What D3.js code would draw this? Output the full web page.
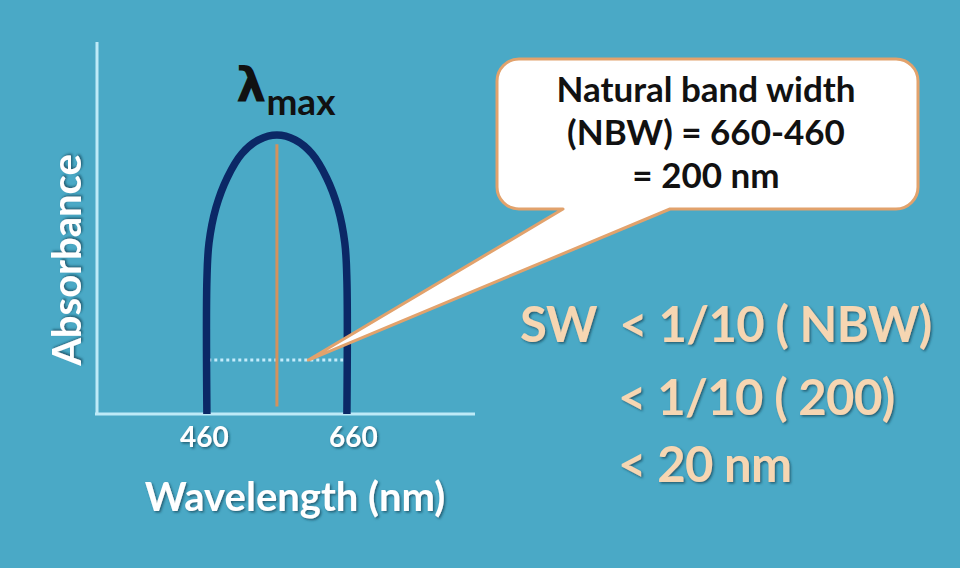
<!DOCTYPE html>
<html>
<head>
<meta charset="utf-8">
<script src="https://cdn.jsdelivr.net/npm/d3@7"></script>
<style>
  body { margin: 0; background: #4aa9c6; }
  svg { display: block; }
  .lbl { font-family: Lato, "Open Sans", sans-serif; font-weight: 700; }
</style>
</head>
<body>
<svg id="viz" width="960" height="568"></svg>
<script>
// band: [wavelength nm, absorbance]
var bandPoints = [
  [460, 0], [460, 0.36], [463, 0.46], [473, 0.555], [489, 0.635], [510, 0.70],
  [534, 0.737], [560, 0.75], [586, 0.737], [610, 0.70], [631, 0.635],
  [647, 0.555], [657, 0.46], [660, 0.36], [660, 0]
]
var xTicks = [460, 660]
var lambdaMax = 560
var peakTop = 0.725
var halfLevel = 0.145
var halfEdges = [462, 664]
var calloutTip = [605, 0.145]
var calloutLines = ["Natural band width", "(NBW) = 660-460", "= 200 nm"]
var ruleLines = ["SW  < 1/10 ( NBW)", "< 1/10 ( 200)", "< 20 nm"]

var svg = d3.select("#viz")
  , W = 960, H = 568

svg.append("rect").attr("width", W).attr("height", H).attr("fill", "#4aa9c6")

var defs = svg.append("defs")
defs.append("filter").attr("id", "shadow")
  .attr("x", "-10%").attr("y", "-20%").attr("width", "130%").attr("height", "150%")
 .append("feDropShadow")
  .attr("dx", 1.5).attr("dy", 1.5).attr("stdDeviation", 1)
  .attr("flood-color", "#1d4d60").attr("flood-opacity", 0.8)

var x = d3.scaleLinear().domain([303, 843]).range([97, 475])
  , y = d3.scaleLinear().domain([0, 1]).range([414, 42])

// axes
var xAxis = d3.axisBottom(x).tickValues(xTicks).tickSize(0).tickPadding(13)
var gx = svg.append("g").attr("transform", "translate(0," + y(0) + ")").call(xAxis)
gx.select(".domain").attr("stroke", "#bdeaf7").attr("stroke-width", 3)
  .attr("d", "M" + (x.range()[0] - 2) + ",0H" + x.range()[1])
gx.selectAll(".tick text")
  .attr("class", "lbl").attr("fill", "#fff").attr("font-size", 28)
  .attr("dx", function(d, i) { return i == 0 ? -3 : 6 })
  .attr("filter", "url(#shadow)")

var yAxis = d3.axisLeft(y).tickValues([]).tickSize(0)
var gy = svg.append("g").attr("transform", "translate(" + x.range()[0] + ",0)").call(yAxis)
gy.select(".domain").attr("stroke", "#bdeaf7").attr("stroke-width", 3)
  .attr("d", "M0," + y.range()[1] + "V" + y.range()[0])

// half-height dotted line
svg.append("line")
  .attr("x1", x(halfEdges[0])).attr("x2", x(halfEdges[1]))
  .attr("y1", y(halfLevel)).attr("y2", y(halfLevel))
  .attr("stroke", "#c4ecfb").attr("stroke-width", 3)
  .attr("stroke-dasharray", "3,3")

// lambda max line
svg.append("line")
  .attr("x1", x(lambdaMax)).attr("x2", x(lambdaMax))
  .attr("y1", y(peakTop)).attr("y2", y(0.02))
  .attr("stroke", "#d4925c").attr("stroke-width", 3)

// band curve
var line = d3.line()
  .x(function(d) { return x(d[0]) })
  .y(function(d) { return y(d[1]) })
  .curve(d3.curveCatmullRom.alpha(0.5))
svg.append("path").datum(bandPoints)
  .attr("d", line)
  .attr("fill", "none")
  .attr("stroke", "#0b2866")
  .attr("stroke-width", 7.5)

// callout bubble
var bx0 = 497, by0 = 59, bx1 = 918, by1 = 209, r = 22
  , tailL = 563, tailR = 670
  , tx = x(calloutTip[0]), ty = y(calloutTip[1])
var p = d3.path()
p.moveTo(bx0 + r, by0)
p.lineTo(bx1 - r, by0)
p.arcTo(bx1, by0, bx1, by0 + r, r)
p.lineTo(bx1, by1 - r)
p.arcTo(bx1, by1, bx1 - r, by1, r)
p.lineTo(tailR, by1)
p.lineTo(tx, ty)
p.lineTo(tailL, by1)
p.lineTo(bx0 + r, by1)
p.arcTo(bx0, by1, bx0, by1 - r, r)
p.lineTo(bx0, by0 + r)
p.arcTo(bx0, by0, bx0 + r, by0, r)
p.closePath()
svg.append("path").attr("d", p.toString())
  .attr("fill", "#fff").attr("stroke", "#e2a26c").attr("stroke-width", 3)
  .attr("stroke-linejoin", "round")

svg.append("g").selectAll("text")
  .data(calloutLines)
  .enter().append("text")
    .attr("class", "lbl")
    .attr("x", 706)
    .attr("y", function(d, i) { return 102 + i * 43 })
    .attr("text-anchor", "middle")
    .attr("font-size", 35)
    .attr("fill", "#111")
    .text(function(d) { return d })

// lambda max label
var lm = svg.append("text").attr("class", "lbl").attr("x", 236).attr("y", 102).attr("fill", "#111")
lm.append("tspan").attr("font-size", 48).attr("font-family", "'DejaVu Sans', sans-serif").text("λ")
lm.append("tspan").attr("font-size", 37).attr("dy", 13).text("max")

// axis titles
svg.append("text").attr("class", "lbl")
  .attr("x", 295).attr("y", 511)
  .attr("text-anchor", "middle")
  .attr("font-size", 40).attr("fill", "#fff")
  .attr("filter", "url(#shadow)")
  .text("Wavelength (nm)")

svg.append("text").attr("class", "lbl")
  .attr("transform", "translate(81,260) rotate(-90)")
  .attr("text-anchor", "middle")
  .attr("font-size", 40).attr("fill", "#fff")
  .attr("filter", "url(#shadow)")
  .text("Absorbance")

// slit width rule
svg.append("g").selectAll("text")
  .data(ruleLines)
  .enter().append("text")
    .attr("class", "lbl")
    .attr("x", function(d, i) { return i == 0 ? 520 : 618 })
    .attr("y", function(d, i) { return [342, 415, 482][i] })
    .attr("font-size", 49)
    .attr("letter-spacing", -0.6)
    .attr("fill", "#f6d6b2")
    .attr("filter", "url(#shadow)")
    .attr("xml:space", "preserve")
    .style("white-space", "pre")
    .text(function(d) { return d })
</script>
</body>
</html>
